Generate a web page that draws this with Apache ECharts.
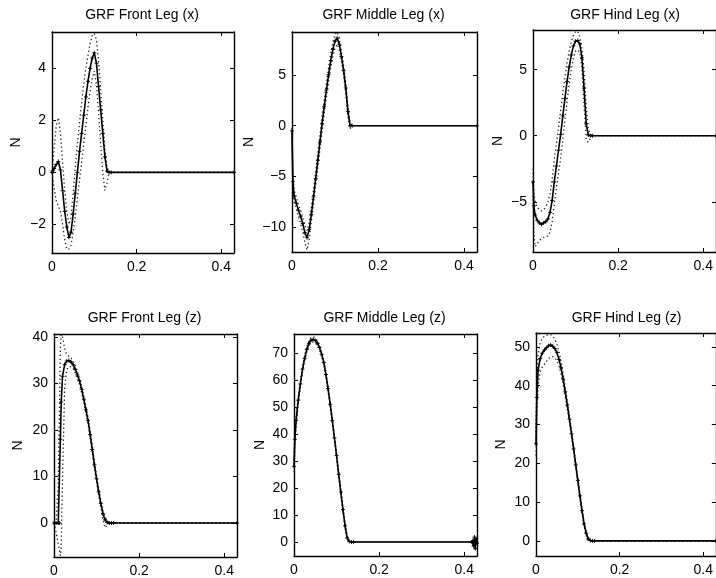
<!DOCTYPE html>
<html>
<head>
<meta charset="utf-8">
<script src="https://cdn.jsdelivr.net/npm/echarts@6/dist/echarts.min.js"></script>
<style>html,body{margin:0;padding:0;background:#fff}#c{width:716px;height:578px}</style>
</head>
<body>
<div id="c"></div>
<script>
// ---------- data ----------
const titles = ['GRF Front Leg (x)', 'GRF Middle Leg (x)', 'GRF Hind Leg (x)',
                'GRF Front Leg (z)', 'GRF Middle Leg (z)', 'GRF Hind Leg (z)'];
const xTicks = [0, 0.2, 0.4];
const yTicksFrontX = [-2, 0, 2, 4];
const yTicksMidX = [-10, -5, 0, 5];
const yTicksHindX = [-5, 0, 5];
const yTicksFrontZ = [0, 10, 20, 30, 40];
const yTicksMidZ = [0, 10, 20, 30, 40, 50, 60, 70];
const yTicksHindZ = [0, 10, 20, 30, 40, 50];

const tX = [0, .002, .005, .01, .015, .02, .025, .03, .035, .04, .045, .05, .055, .06, .065, .07,
            .075, .08, .085, .09, .095, .10, .105, .11, .115, .12, .125, .13, .135, .14, .43];
const tFZ = [0, .005, .01, .013, .015, .017, .02, .025, .03, .035, .04, .045, .05, .055, .06, .065,
             .07, .075, .08, .085, .09, .095, .10, .105, .11, .115, .12, .125, .13, .135, .14, .43];
const tMZ = [0, .002, .005, .01, .015, .02, .025, .03, .035, .04, .045, .05, .055, .06, .065, .07,
             .075, .08, .085, .09, .095, .10, .105, .11, .115, .12, .125, .13, .135, .14,
             .418, .42, .422, .424, .426, .428, .43];

const frontXMean = [0, 0.06, 0.15, 0.3, 0.42, 0.1, -0.7, -1.5, -2.1, -2.5, -2.3, -1.6, -0.8, 0, 0.8, 1.5,
                    2.2, 2.9, 3.5, 4.0, 4.4, 4.6, 4.2, 3.3, 2.4, 1.5, 0.6, 0.05, 0, 0, 0];
const frontXUp = [0, 0.35, 0.9, 1.8, 2.1, 1.5, 0.4, -0.7, -1.5, -2.0, -1.7, -0.8, 0.2, 1.1, 1.9, 2.7,
                  3.4, 4.0, 4.5, 4.95, 5.25, 5.35, 5.1, 4.3, 3.2, 2.0, 0.9, 0.2, 0, 0, 0];
const frontXLo = [0, -0.25, -0.6, -1.1, -1.3, -1.5, -2.0, -2.6, -2.95, -2.95, -2.8, -2.3, -1.7, -1.0, -0.3, 0.4,
                  1.1, 1.8, 2.5, 3.1, 3.6, 3.9, 3.4, 2.3, 1.1, 0.0, -0.7, -0.4, 0, 0, 0];

const midXMean = [-0.5, -5.5, -6.9, -7.6, -8.3, -8.9, -9.6, -10.5, -11.0, -10.2, -8.7, -7.0, -5.2, -3.4, -1.6, 0.2,
                  1.9, 3.5, 5.0, 6.4, 7.5, 8.3, 8.6, 8.0, 6.8, 5.4, 3.7, 1.4, 0, 0, 0];
const midXUp = [-0.2, -4.8, -6.3, -7.1, -7.7, -8.3, -9.0, -9.8, -10.3, -9.5, -8.0, -6.3, -4.5, -2.7, -0.9, 0.9,
                2.6, 4.2, 5.7, 7.1, 8.2, 9.0, 9.2, 8.6, 7.3, 5.9, 4.2, 1.9, 0.3, 0, 0];
const midXLo = [-0.8, -6.2, -7.5, -8.1, -8.9, -9.6, -10.4, -11.5, -12.2, -11.2, -9.4, -7.7, -5.9, -4.1, -2.3, -0.5,
                1.2, 2.8, 4.3, 5.7, 6.8, 7.6, 8.0, 7.4, 6.3, 4.9, 3.2, 0.9, -0.3, 0, 0];

const hindXMean = [-3.5, -5.3, -6.0, -6.4, -6.6, -6.7, -6.6, -6.5, -6.3, -5.8, -4.9, -3.5, -2.3, -1.1, 0.1, 1.5,
                   2.8, 4.1, 5.2, 6.1, 6.8, 7.15, 7.2, 6.95, 5.9, 3.6, 0.9, 0.05, 0, 0, 0];
const hindXUp = [-2.5, -4.3, -5.0, -5.4, -5.6, -5.7, -5.6, -5.4, -5.0, -4.4, -3.3, -1.8, -0.6, 0.6, 1.9, 3.2,
                 4.4, 5.5, 6.4, 7.1, 7.6, 7.9, 7.9, 7.5, 6.6, 4.9, 2.2, 0.5, 0.1, 0, 0];
const hindXLo = [-4.5, -7.5, -8.4, -8.2, -7.9, -7.8, -7.7, -7.6, -7.6, -7.3, -6.5, -5.2, -3.9, -2.8, -1.7, -0.3,
                 1.2, 2.6, 3.9, 5.0, 5.9, 6.4, 6.5, 6.3, 5.1, 2.3, -0.3, -0.5, -0.2, 0, 0];

const frontZMean = [0, 0, 0, 0, 18, 26, 31.5, 34.0, 34.8, 34.9, 34.6, 34.0, 33.0, 31.8, 30.5, 28.7,
                    26.6, 24.3, 22.0, 19.0, 15.8, 12.5, 9.5, 6.7, 4.2, 2.0, 0.7, 0.1, 0, 0, 0, 0];
const frontZUp = [0, 0.5, 8, 25, 38, 40.5, 40, 37.5, 36.2, 35.8, 35.4, 34.8, 33.8, 32.5, 31.2, 29.4,
                  27.3, 25.0, 22.7, 19.7, 16.5, 13.2, 10.2, 7.4, 4.9, 2.7, 1.3, 0.5, 0.1, 0, 0, 0];
const frontZLo = [0, -2, -4.5, -6, -7, -5, 10, 29, 33.0, 33.6, 33.6, 33.2, 32.2, 31.0, 29.8, 28.0,
                  25.9, 23.6, 21.3, 18.3, 15.1, 11.8, 8.8, 6.0, 3.3, 0.8, -1.0, -0.5, -0.1, 0, 0, 0];

const midZMean = [28, 38, 45, 52.5, 58.5, 64, 68, 71.3, 73.5, 74.7, 75.0, 74.6, 73.6, 72.0, 69.5, 66.5,
                  62.0, 56.8, 51.0, 45.0, 38.5, 32.0, 25.0, 18.5, 12.0, 6.0, 1.5, 0.2, 0, 0,
                  0, 0.5, -1.5, 1.8, -2.5, 1.2, -0.5];
const midZUp = [30, 40, 46.5, 53.8, 59.7, 65, 69, 72.3, 74.5, 75.7, 76.0, 75.6, 74.5, 72.9, 70.4, 67.4,
                62.9, 57.7, 51.9, 45.9, 39.4, 32.9, 25.9, 19.4, 12.9, 6.8, 2.2, 0.5, 0.1, 0,
                0, 1.0, -1.0, 2.3, -2.0, 1.7, 0];
const midZLo = [26, 36, 43.5, 51.2, 57.3, 63, 67, 70.3, 72.5, 73.7, 74.0, 73.6, 72.7, 71.1, 68.6, 65.6,
                61.1, 55.9, 50.1, 44.1, 37.6, 31.1, 24.1, 17.6, 11.1, 5.2, 0.8, -0.1, -0.1, 0,
                0, 0, -2.0, 1.3, -3.0, 0.7, -1.0];

const hindZMean = [25, 37, 44, 47, 48.4, 49.2, 49.8, 50.3, 50.5, 50.2, 49.6, 48.6, 46.8, 44.6, 41.7, 38.4,
                   35.0, 31.4, 27.6, 23.7, 19.6, 15.6, 11.6, 7.8, 4.4, 2.0, 0.5, 0.1, 0, 0, 0];
const hindZUp = [28, 41, 48, 51, 52.2, 52.8, 53.0, 53.2, 53.2, 52.8, 52.0, 50.8, 48.8, 46.2, 43.1, 39.6,
                 36.0, 32.3, 28.4, 24.4, 20.3, 16.2, 12.2, 8.4, 4.9, 2.4, 0.8, 0.2, 0, 0, 0];
const hindZLo = [22, 33, 40, 43.5, 44.8, 45.5, 46.3, 47.0, 47.5, 47.5, 47.2, 46.5, 45.0, 43.0, 40.3, 37.2,
                 33.9, 30.5, 26.8, 23.0, 18.9, 15.0, 11.0, 7.2, 3.9, 1.4, 0.0, -0.2, 0, 0, 0];

// ---------- layout ----------
const panels = [
  {t: tX,  m: frontXMean, u: frontXUp, l: frontXLo, ticks: yTicksFrontX, ymin: -3.1, ymax: 5.4,
   left: 52, top: 32, width: 182, height: 221, gap: 29},
  {t: tX,  m: midXMean, u: midXUp, l: midXLo, ticks: yTicksMidX, ymin: -12.4, ymax: 9.2,
   left: 292, top: 32, width: 185, height: 220, gap: 36},
  {t: tX,  m: hindXMean, u: hindXUp, l: hindXLo, ticks: yTicksHindX, ymin: -8.8, ymax: 8.0,
   left: 533, top: 30, width: 186, height: 222, gap: 28},
  {t: tFZ, m: frontZMean, u: frontZUp, l: frontZLo, ticks: yTicksFrontZ, ymin: -7.3, ymax: 40.6,
   left: 54, top: 334, width: 183, height: 223, gap: 29},
  {t: tMZ, m: midZMean, u: midZUp, l: midZLo, ticks: yTicksMidZ, ymin: -5.2, ymax: 77,
   left: 294, top: 334, width: 183, height: 222, gap: 27},
  {t: tX,  m: hindZMean, u: hindZUp, l: hindZLo, ticks: yTicksHindZ, ymin: -3.9, ymax: 53.6,
   left: 536, top: 333, width: 183, height: 223, gap: 28}
];
const titleY = [16, 16, 16, 319, 319, 319];
const FONT = "'Liberation Sans', Arial, Helvetica, sans-serif";

const pairs = (t, v) => t.map((x, i) => [x, v[i]]);
const fmt = v => (v < 0 ? '\u2212' + Math.abs(v) : String(v));

const grid = [], xAxis = [], yAxis = [], series = [], title = [];
const lineAx = {show: true, onZero: false, lineStyle: {color: '#000', width: 1.4}};

panels.forEach((p, i) => {
  grid.push({left: p.left, top: p.top, width: p.width, height: p.height, containLabel: false});
  title.push({text: titles[i], left: p.left + p.width / 2 - 1, top: titleY[i] - 8, textAlign: 'center',
              padding: 0, textStyle: {fontSize: 14, fontWeight: 'normal', color: '#000', fontFamily: FONT}});
  const xb = {type: 'value', gridIndex: i, min: 0, max: 0.43, position: 'bottom',
    axisLine: lineAx, splitLine: {show: false},
    axisTick: {inside: true, length: 4, customValues: xTicks, lineStyle: {color: '#000'}},
    axisLabel: {customValues: xTicks, formatter: fmt, fontSize: 14, color: '#000', margin: 7, fontFamily: FONT}};
  const xt = {type: 'value', gridIndex: i, min: 0, max: 0.43, position: 'top',
    axisLine: lineAx, splitLine: {show: false},
    axisTick: {inside: true, length: 4, customValues: xTicks, lineStyle: {color: '#000'}},
    axisLabel: {show: false}};
  xAxis.push(xb, xt);
  const yl = {type: 'value', gridIndex: i, min: p.ymin, max: p.ymax, position: 'left',
    name: 'N', nameLocation: 'middle', nameRotate: 90, nameGap: p.gap,
    nameTextStyle: {fontSize: 14, color: '#000', fontFamily: FONT},
    axisLine: lineAx, splitLine: {show: false},
    axisTick: {inside: true, length: 4, customValues: p.ticks, lineStyle: {color: '#000'}},
    axisLabel: {customValues: p.ticks, formatter: fmt, fontSize: 14, color: '#000', margin: 6, fontFamily: FONT}};
  const yr = {type: 'value', gridIndex: i, min: p.ymin, max: p.ymax, position: 'right',
    axisLine: lineAx, splitLine: {show: false},
    axisTick: {inside: true, length: 4, customValues: p.ticks, lineStyle: {color: '#000'}},
    axisLabel: {show: false}};
  yAxis.push(yl, yr);
  const xi = 2 * i, yi = 2 * i;
  [p.u, p.l].forEach(arr => series.push({
    type: 'line', xAxisIndex: xi, yAxisIndex: yi, data: pairs(p.t, arr),
    symbol: 'none', silent: true, animation: false, z: 2,
    lineStyle: {color: '#222', width: 1.3, type: [1.3, 2.7]}
  }));
  series.push({
    type: 'line', xAxisIndex: xi, yAxisIndex: yi, data: pairs(p.t, p.m),
    symbol: 'path://M0,5L10,5M5,0L5,10', symbolSize: 4, showAllSymbol: true,
    itemStyle: {color: 'none', borderColor: '#000', borderWidth: 0.9},
    silent: true, animation: false, z: 3,
    lineStyle: {color: '#000', width: 1.6}
  });
});

const chart = echarts.init(document.getElementById('c'), null, {renderer: 'canvas'});
chart.setOption({backgroundColor: '#fff', animation: false, title, grid, xAxis, yAxis, series});
</script>
</body>
</html>
